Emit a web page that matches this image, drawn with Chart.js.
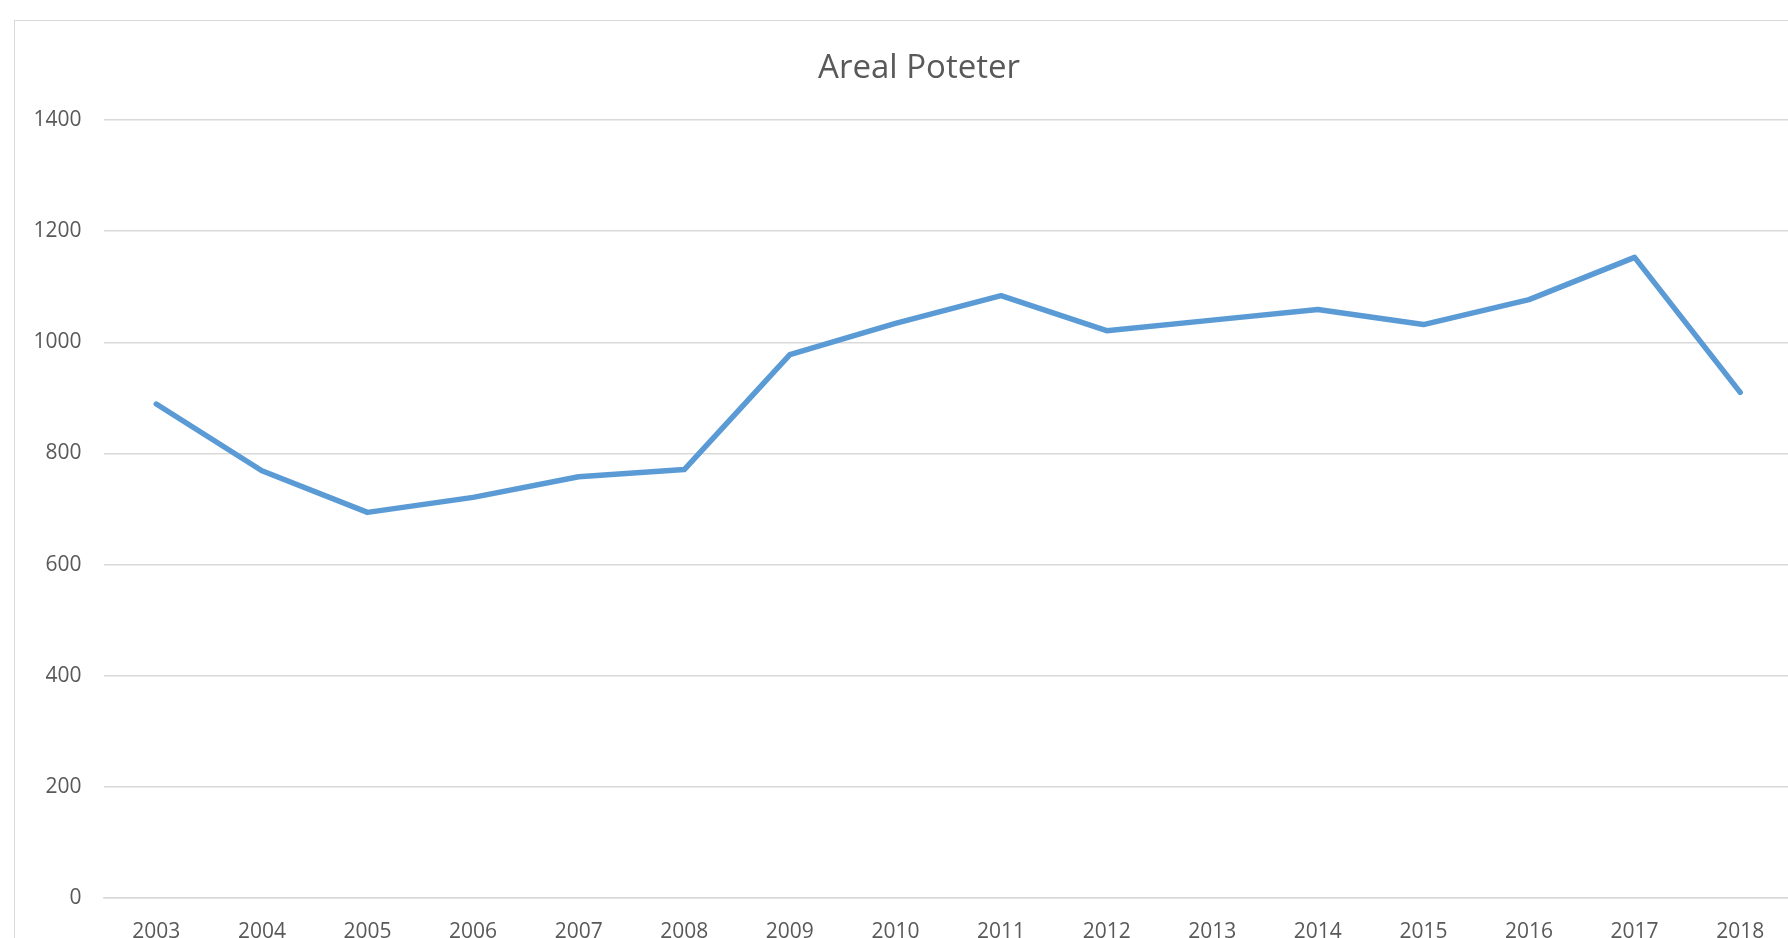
<!DOCTYPE html>
<html>
<head>
<meta charset="utf-8">
<script src="https://cdn.jsdelivr.net/npm/chart.js@4.4.1/dist/chart.umd.min.js"></script>
<style>
  html, body { margin: 0; padding: 0; background: #ffffff; overflow: hidden; width: 1788px; height: 938px; }
  #frame { position: absolute; left: 14px; top: 20px; width: 1900px; height: 1000px; border: 1.5px solid #d9d9d9; box-sizing: border-box; }
  #wrap { position: absolute; left: 0; top: 0; width: 1838px; height: 944px; }
  canvas { display: block; }
</style>
</head>
<body>
<div id="frame"></div>
<div id="wrap"><canvas id="c" width="1838" height="944"></canvas></div>
<script>
const titleText = "Areal Poteter";
const years = ["2003","2004","2005","2006","2007","2008","2009","2010","2011","2012","2013","2014","2015","2016","2017","2018"];
const areal = [889, 769, 694, 721, 758, 771, 978, 1034, 1084, 1021, 1040, 1059, 1032, 1077, 1153, 910];
const yMin = 0;
const yMax = 1400;
const yStep = 200;

const FONT = "'Open Sans', 'Liberation Sans', sans-serif";
const TEXT = "#595959";

new Chart(document.getElementById("c"), {
  type: "line",
  data: {
    labels: years,
    datasets: [{
      label: titleText,
      data: areal,
      yAxisID: "y",
      borderColor: "#5B9BD5",
      backgroundColor: "#5B9BD5",
      borderWidth: 5.5,
      borderCapStyle: "round",
      borderJoinStyle: "round",
      pointRadius: 0,
      tension: 0,
      fill: false
    }]
  },
  options: {
    responsive: false,
    maintainAspectRatio: false,
    animation: false,
    devicePixelRatio: 1,
    layout: { padding: 0 },
    plugins: {
      legend: { display: false },
      tooltip: { enabled: false },
      title: {
        display: true,
        text: titleText,
        color: TEXT,
        font: { family: FONT, size: 33, weight: "normal" },
        padding: { top: 48.5, bottom: 32 }
      }
    },
    scales: {
      x: {
        offset: true,
        grid: { display: false, drawTicks: false },
        border: { display: true, color: "#d9d9d9", width: 1.5 },
        ticks: { color: TEXT, font: { family: FONT, size: 21 }, padding: 21, maxRotation: 0, minRotation: 0, autoSkip: false },
        afterFit: function (scale) { scale.height = 46; }
      },
      y: {
        position: "left",
        min: yMin,
        max: yMax,
        ticks: {
          stepSize: yStep,
          color: TEXT,
          font: { family: FONT, size: 21 },
          padding: 22,
          callback: function (value) { return String(value); }
        },
        grid: { color: "#d9d9d9", lineWidth: 1.5, drawTicks: false },
        border: { display: false },
        afterFit: function (scale) { scale.width = 103.5; }
      },
      yRight: {
        position: "right",
        min: yMin,
        max: yMax,
        ticks: { display: false },
        grid: { display: false, drawTicks: false },
        border: { display: false },
        afterFit: function (scale) { scale.width = 45; }
      }
    }
  }
});
</script>
</body>
</html>
